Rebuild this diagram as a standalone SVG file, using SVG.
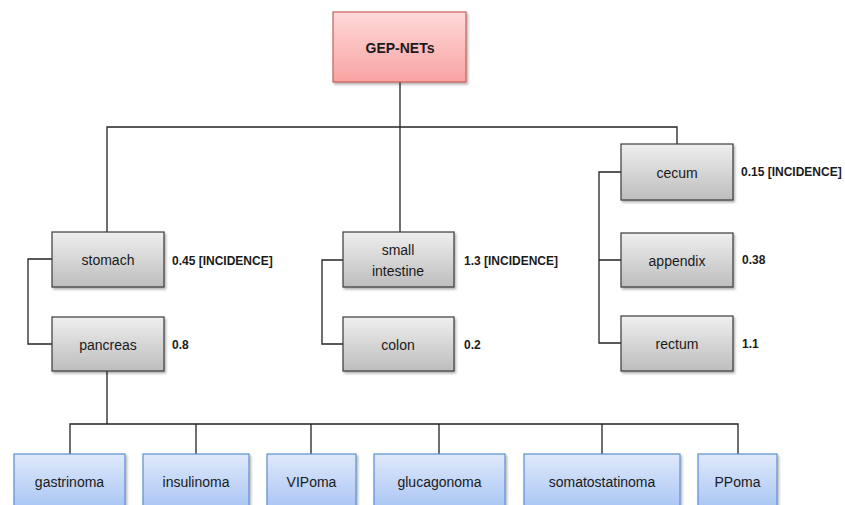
<svg xmlns="http://www.w3.org/2000/svg" width="845" height="505" viewBox="0 0 845 505">
<defs>
<linearGradient id="gPink" x1="0" y1="0" x2="0" y2="1"><stop offset="0" stop-color="#ffd9d9"/><stop offset="1" stop-color="#f9a3a3"/></linearGradient>
<linearGradient id="gGray" x1="0" y1="0" x2="0" y2="1"><stop offset="0" stop-color="#efefef"/><stop offset="1" stop-color="#bdbdbd"/></linearGradient>
<linearGradient id="gBlue" x1="0" y1="0" x2="0" y2="1"><stop offset="0" stop-color="#dfe9fb"/><stop offset="1" stop-color="#a6c3f4"/></linearGradient>
<filter id="sh" x="-10%" y="-10%" width="130%" height="140%"><feDropShadow dx="1.5" dy="2" stdDeviation="1.2" flood-color="#000" flood-opacity="0.3"/></filter>
</defs>
<style>
.pink{fill:url(#gPink);stroke:#c9605c;stroke-width:1.2;filter:url(#sh)}
.gray{fill:url(#gGray);stroke:#3a3a3a;stroke-width:1.2;filter:url(#sh)}
.blue{fill:url(#gBlue);stroke:#5b8fd0;stroke-width:1.2;filter:url(#sh)}
text{font-family:"Liberation Sans",Arial,sans-serif;fill:#1a1a1a}
.t{font-size:14px;text-anchor:middle;dominant-baseline:central}
.tb{font-size:14px;font-weight:bold;text-anchor:middle;dominant-baseline:central}
.lbl{font-size:12px;font-weight:bold;dominant-baseline:central}
.c{fill:none;stroke:#222;stroke-width:1.3}
</style>
<g id="connectors">
<path class="c" d="M400 82 V127 M107 232 V127 H677 V144 M400 127 V232"/>
<path class="c" d="M52 259 H28 V344 H52"/>
<path class="c" d="M343 260 H322 V344 H343"/>
<path class="c" d="M621 172 H599 V343 H621 M599 260 H621"/>
<path class="c" d="M107 371 V424 M70 454 V424 H738 V454 M196 424 V454 M311 424 V454 M439 424 V454 M602 424 V454"/>
</g>
<g id="gepnets"><rect class="pink" x="333" y="12" width="133" height="70"/><text class="tb" x="400" y="48">GEP-NETs</text></g>
<g id="stomach"><rect class="gray" x="52" y="232" width="112" height="55"/><text class="t" x="108" y="260">stomach</text><text class="lbl" x="172" y="261">0.45 [INCIDENCE]</text></g>
<g id="pancreas"><rect class="gray" x="52" y="317" width="112" height="54"/><text class="t" x="108" y="345">pancreas</text><text class="lbl" x="172" y="345">0.8</text></g>
<g id="small-intestine"><rect class="gray" x="343" y="232" width="111" height="55"/><text class="t" x="398" y="250">small</text><text class="t" x="398" y="271">intestine</text><text class="lbl" x="464" y="261">1.3 [INCIDENCE]</text></g>
<g id="colon"><rect class="gray" x="343" y="317" width="111" height="54"/><text class="t" x="398" y="345">colon</text><text class="lbl" x="464" y="345">0.2</text></g>
<g id="cecum"><rect class="gray" x="621" y="144" width="112" height="56"/><text class="t" x="677" y="173">cecum</text><text class="lbl" x="741" y="172">0.15 [INCIDENCE]</text></g>
<g id="appendix"><rect class="gray" x="621" y="233" width="112" height="54"/><text class="t" x="677" y="261">appendix</text><text class="lbl" x="742" y="260">0.38</text></g>
<g id="rectum"><rect class="gray" x="621" y="316" width="112" height="55"/><text class="t" x="677" y="344">rectum</text><text class="lbl" x="742" y="344">1.1</text></g>
<g id="gastrinoma"><rect class="blue" x="14" y="454" width="111" height="58"/><text class="t" x="69.5" y="482">gastrinoma</text></g>
<g id="insulinoma"><rect class="blue" x="143" y="454" width="106" height="58"/><text class="t" x="196" y="482">insulinoma</text></g>
<g id="vipoma"><rect class="blue" x="267" y="454" width="89" height="58"/><text class="t" x="311.5" y="482">VIPoma</text></g>
<g id="glucagonoma"><rect class="blue" x="374" y="454" width="131" height="58"/><text class="t" x="439.5" y="482">glucagonoma</text></g>
<g id="somatostatinoma"><rect class="blue" x="524" y="454" width="156" height="58"/><text class="t" x="602" y="482">somatostatinoma</text></g>
<g id="ppoma"><rect class="blue" x="698" y="454" width="79" height="58"/><text class="t" x="737.5" y="482">PPoma</text></g>
</svg>
